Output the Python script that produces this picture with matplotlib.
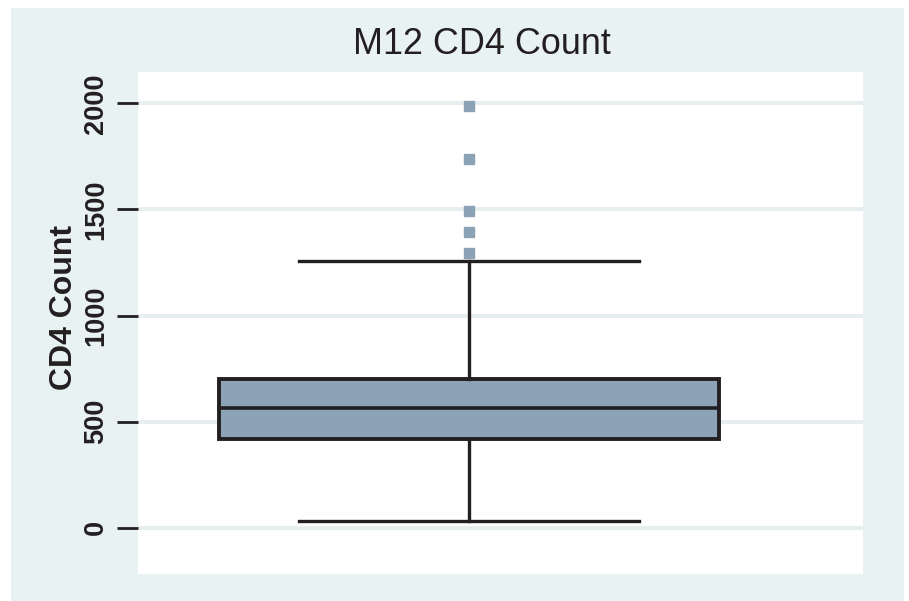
import matplotlib.pyplot as plt
from matplotlib.patches import Rectangle

# box summary
q1 = 420
median = 566
q3 = 703
whisker_low = 33
whisker_high = 1259
outliers = [1297, 1396, 1495, 1736, 1986]
yticks = [0, 500, 1000, 1500, 2000]

bg = '#e9f2f3'
boxcol = '#8ba2b7'
edge = '#231f20'

fig = plt.figure(figsize=(9.09, 6.01), dpi=100)
fig.patch.set_facecolor('white')
fig.add_artist(Rectangle((11 / 909, 0), 893 / 909, 593 / 601,
                         transform=fig.transFigure, facecolor=bg,
                         edgecolor='none', zorder=-5))

ax = fig.add_axes([138 / 909, 1 - 574 / 601, 725 / 909, 502 / 601])
ax.set_facecolor('white')

stats = [{'med': median, 'q1': q1, 'q3': q3, 'whislo': whisker_low,
          'whishi': whisker_high, 'fliers': outliers, 'label': ''}]
ax.bxp(stats, positions=[0], widths=[1.0], patch_artist=True,
       capwidths=[0.68],
       boxprops=dict(facecolor=boxcol, edgecolor=edge, linewidth=2.8),
       medianprops=dict(color=edge, linewidth=2.6),
       whiskerprops=dict(color=edge, linewidth=2.4),
       capprops=dict(color=edge, linewidth=2.4),
       flierprops=dict(marker='s', markersize=6.5, markerfacecolor=boxcol,
                       markeredgecolor=boxcol))

ax.set_xlim(-0.662, 0.788)
ax.set_ylim(-218, 2148)
ax.set_yticks(yticks)
ax.set_xticks([])
ax.grid(axis='y', color='#e6eff0', linewidth=2.8)
ax.set_axisbelow(True)
for s in ax.spines.values():
    s.set_visible(False)

ax.tick_params(axis='y', length=15, width=2, color=edge, pad=6)
for lbl in ax.get_yticklabels():
    lbl.set_rotation(90)
    lbl.set_va('center')
    lbl.set_fontsize(19.5)
    lbl.set_fontweight('bold')
    lbl.set_fontfamily('Liberation Sans')
    lbl.set_color(edge)

ax.set_ylabel('CD4 Count', fontsize=23, fontweight='bold',
              fontfamily='Liberation Sans', color=edge)
ax.yaxis.set_label_coords(-0.081, 0.53)
fig.text(482 / 909, 1 - 44 / 601, 'M12 CD4 Count', fontsize=25.8,
         fontfamily='Liberation Sans', color=edge, ha='center', va='center')

fig.savefig('out.png', dpi=100)
